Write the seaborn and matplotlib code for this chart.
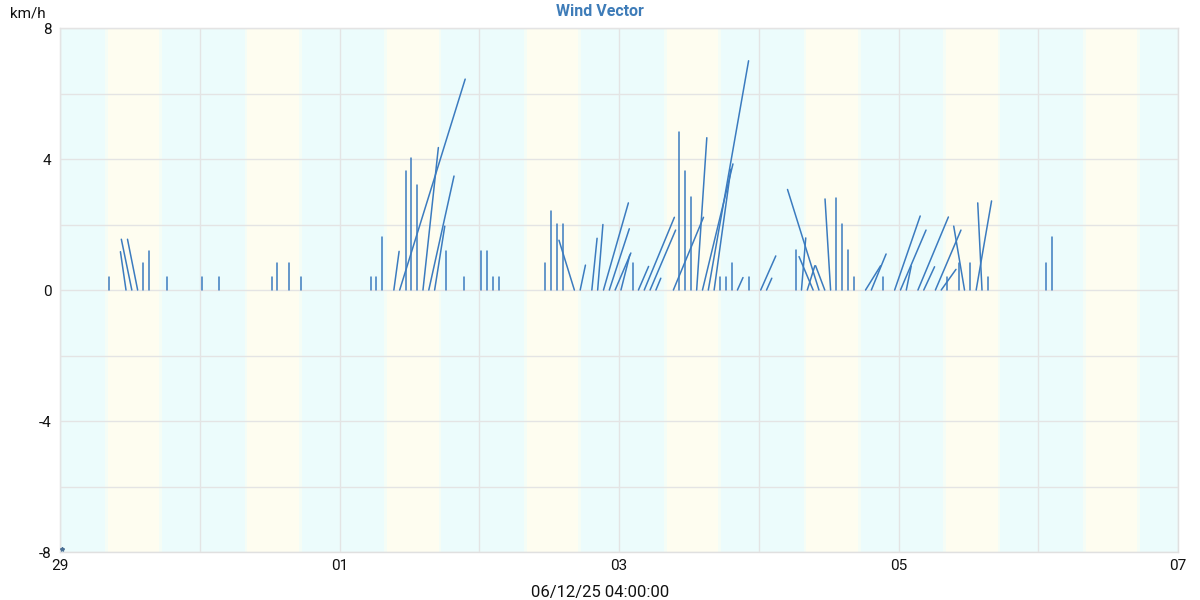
import pandas as pd
import numpy as np
import seaborn as sns
import matplotlib.pyplot as plt
import matplotlib.dates as mdates

# Hourly wind readings, hours counted from 29 Nov 00:20
hours = [8, 11, 12, 13, 14, 15, 18, 24, 27, 36, 37, 39, 41, 53, 54, 55, 57, 58, 59, 60,
         61, 62, 63, 64, 66, 69, 72, 73, 74, 75, 83, 84, 85, 86, 88, 89, 91, 92, 93, 94,
         95, 96, 98, 99, 100, 101, 102, 105, 106, 107, 108, 109, 110, 111, 112, 113, 114,
         115, 116, 118, 120, 121, 126, 127, 128, 129, 130, 131, 132, 133, 134, 135, 136,
         138, 139, 141, 143, 144, 145, 147, 148, 150, 151, 152, 154, 155, 156, 157, 158,
         159, 169, 170]
# east (u) and north (v) components, km/h
u = [0, -0.17, -0.32, -0.31, 0, 0, 0, 0, 0, 0, 0, 0, 0, 0, 0, 0, 0.16, 2.0, 0, 0,
     0, 0.47, 0.77, 0.31, 0, 0, 0, 0, 0, 0, 0, 0, 0, 0, -0.47, 0.16, 0.16, 0.16, 0.76, 0.61,
     0.48, 0.27, 0, 0.31, 0.92, 0.78, 0.15, 0.92, 0, 0, 0, 0.31, 0.93, 1.23, 0.51, 0, 0,
     0, 0.17, 0, 0.46, 0.16, 0, 0.13, 0.23, -0.43, -0.96, -0.28, -0.17, 0, 0, 0, 0,
     0.46, 0.45, 0, 0.78, 0.78, 0.15, 0.93, 0.33, 0.78, 0.45, 0, 0, -0.33, 0, 0.47, -0.13,
     0, 0, 0]
v = [0.4, 1.17, 1.55, 1.55, 0.81, 1.2, 0.4, 0.4, 0.4, 0.4, 0.81, 0.81, 0.4, 0.4, 0.4, 1.62, 1.18, 6.44, 3.63, 4.04,
     3.22, 4.35, 3.48, 1.95, 1.2, 0.4, 1.2, 1.2, 0.4, 0.4, 0.81, 2.42, 2.02, 2.02, 1.52, 0.76, 1.58, 2.0, 2.66, 1.87,
     1.13, 1.07, 0.81, 0.72, 2.22, 1.83, 0.36, 2.22, 4.83, 3.63, 2.83, 4.65, 3.85, 7.0, 3.69, 0.4, 0.4,
     0.81, 0.38, 0.4, 1.04, 0.36, 1.21, 1.59, 0.74, 1.02, 3.07, 0.74, 2.78, 2.8, 2.02, 1.21, 0.4,
     0.74, 1.1, 0.4, 2.26, 1.83, 0.73, 2.23, 0.71, 1.83, 0.63, 0.4, 0.81, 1.95, 0.81, 2.72, 2.66,
     0.4, 0.81, 1.62]

start = pd.Timestamp("2025-11-29 00:20")
x_start = pd.Timestamp("2025-11-29")
x_end = pd.Timestamp("2025-12-07")
days = pd.date_range("2025-11-29", "2025-12-06", freq="D")
sunrise_h = 8.0
sunset_h = 17.2

night_col = "#ecfcfc"
day_col = "#fefdf0"
line_col = "#3b7bbf"

sns.set_theme(style="whitegrid")
plt.rcParams["font.family"] = ["Roboto", "DejaVu Sans"]

fig = plt.figure(figsize=(12, 6), dpi=100)
ax = fig.add_axes([0.05, 0.08, 0.9317, 0.8733])
ax.set_xlim(mdates.date2num(x_start), mdates.date2num(x_end))
ax.set_ylim(-8, 8)

# day / night background
ax.set_facecolor(night_col)
for d in days:
    a = mdates.date2num(d + pd.Timedelta(hours=sunrise_h))
    b = mdates.date2num(d + pd.Timedelta(hours=sunset_h))
    ax.axvspan(a - 0.012, b + 0.012, color="#f5fdf6", lw=0, zorder=0)
    ax.axvspan(a + 0.008, b - 0.008, color=day_col, lw=0, zorder=0)

# km/h -> days on the x axis so that sticks keep true angles on screen
fig.canvas.draw()
bb = ax.get_window_extent()
px_per_day = bb.width / (ax.get_xlim()[1] - ax.get_xlim()[0])
px_per_kmh = bb.height / (ax.get_ylim()[1] - ax.get_ylim()[0])
k = px_per_kmh / px_per_day

t = mdates.date2num(start + pd.to_timedelta(hours, unit="h"))
rows = []
for i in range(len(hours)):
    rows.append({"id": i, "x": t[i], "y": 0.0})
    rows.append({"id": i, "x": t[i] + u[i] * k, "y": v[i]})
sticks = pd.DataFrame(rows)

sns.lineplot(data=sticks, x="x", y="y", units="id", estimator=None, sort=False,
             color=line_col, lw=1.1, ax=ax, zorder=3)
ax.plot(mdates.date2num(x_start) + 0.012, -7.9, marker="*", ms=3, color="#4a6f94",
        zorder=4, clip_on=False)

ax.set_xlim(mdates.date2num(x_start), mdates.date2num(x_end))
ax.set_ylim(-8, 8)
ax.xaxis.set_major_locator(mdates.DayLocator(interval=2))
ax.xaxis.set_major_formatter(mdates.DateFormatter("%d"))
ax.xaxis.set_minor_locator(mdates.DayLocator())
ax.set_yticks([-8, -4, 0, 4, 8])
ax.set_yticklabels(["-8", "-4", "0", "4", "8"])
ax.yaxis.set_minor_locator(plt.MultipleLocator(2))
ax.grid(which="both", color="#e4e4e4", lw=1)
ax.set_axisbelow(False)
for s in ax.spines.values():
    s.set_color("#e0e0e0")
    s.set_linewidth(1)
ax.tick_params(which="both", length=0, labelsize=11, colors="#111111")
ax.tick_params(axis="x", pad=5)
ax.tick_params(axis="y", pad=6)
ax.set_xlabel("")
ax.set_ylabel("")

fig.text(0.5, 0.98, "Wind Vector", fontsize=11.5, fontweight="bold", color="#3e7cb8",
         ha="center", va="center")
fig.text(0.008, 0.978, "km/h", fontsize=11, ha="left", va="center", color="#111111")
fig.text(0.5, 0.013, "06/12/25 04:00:00", fontsize=12, ha="center", va="center", color="#111111")

fig.savefig("out.png", dpi=100)
